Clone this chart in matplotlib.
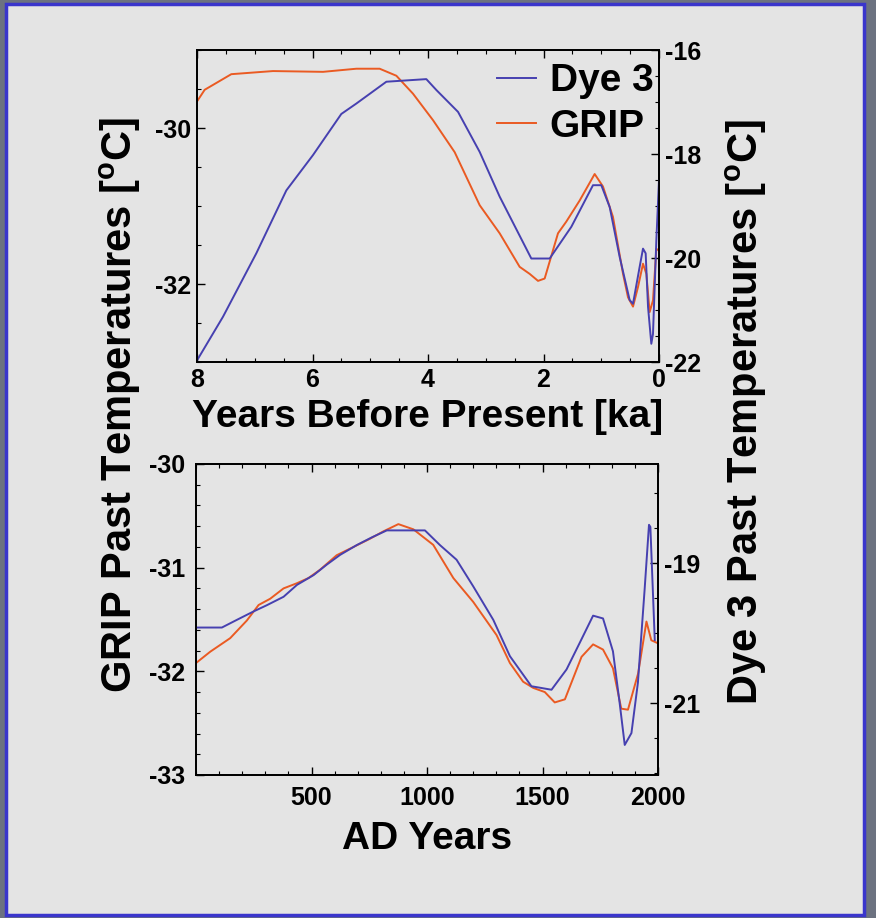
import matplotlib
matplotlib.use("Agg")
import matplotlib.pyplot as plt
from matplotlib.patches import Rectangle
from matplotlib.ticker import MultipleLocator

plt.rcParams['font.family'] = ['Liberation Sans', 'DejaVu Sans']
plt.rcParams['font.weight'] = 'bold'
plt.rcParams['axes.unicode_minus'] = False

# =====================================================
# DATA
# =====================================================

# upper panel: last 8 ka
grip_ka = [8.0, 7.867, 7.406, 6.684, 5.818, 5.241, 4.837, 4.548, 4.260, 3.913,
           3.538, 3.105, 2.759, 2.413, 2.240, 2.095, 1.980, 1.749, 1.605, 1.374,
           1.114, 0.970, 0.797, 0.623, 0.537, 0.450, 0.364, 0.277, 0.219, 0.162,
           0.104, 0.046, 0.0]
grip_ka_temp = [-29.66, -29.51, -29.31, -29.27, -29.28, -29.24, -29.24, -29.33, -29.56, -29.90,
                -30.31, -30.99, -31.35, -31.78, -31.87, -31.96, -31.93, -31.35, -31.20, -30.93,
                -30.59, -30.75, -31.14, -31.87, -32.17, -32.29, -32.04, -31.74, -31.87, -32.36,
                -32.21, -31.55, -31.57]

dye3_ka = [8.0, 7.550, 6.973, 6.453, 5.991, 5.501, 5.241, 4.721, 4.029, 3.855,
           3.480, 3.105, 2.759, 2.211, 1.893, 1.518, 1.143, 0.999, 0.854, 0.681,
           0.508, 0.450, 0.335, 0.277, 0.231, 0.190, 0.133, 0.104, 0.046, 0.0]
dye3_ka_temp = [-21.97, -21.13, -19.91, -18.70, -18.02, -17.23, -17.03, -16.61, -16.56, -16.77,
                -17.19, -17.96, -18.82, -20.01, -20.01, -19.40, -18.60, -18.60, -19.02, -19.98,
                -20.81, -20.88, -20.17, -19.82, -19.91, -20.94, -21.65, -21.46, -19.66, -18.50]

# lower panel: AD years
grip_ad = [0, 62, 148, 220, 271, 321, 379, 437, 487, 537, 609, 682, 754, 811, 876,
           941, 1027, 1114, 1200, 1301, 1359, 1416, 1460, 1510, 1553, 1597, 1669,
           1719, 1762, 1805, 1841, 1870, 1914, 1950, 1971, 2000]
grip_ad_temp = [-31.92, -31.81, -31.68, -31.51, -31.36, -31.30, -31.20, -31.15, -31.10, -31.02,
                -30.88, -30.80, -30.72, -30.65, -30.58, -30.63, -30.78, -31.10, -31.33, -31.65,
                -31.92, -32.10, -32.16, -32.20, -32.30, -32.27, -31.86, -31.74, -31.79, -31.97,
                -32.36, -32.37, -32.02, -31.52, -31.70, -31.73]

dye3_ad = [0, 112, 177, 249, 307, 379, 437, 509, 566, 624, 696, 761, 826, 991, 1056,
           1128, 1200, 1287, 1359, 1452, 1539, 1604, 1661, 1719, 1762, 1805, 1834, 1856,
           1885, 1913, 1942, 1961, 1967, 1986]
dye3_ad_temp = [-19.92, -19.92, -19.81, -19.69, -19.60, -19.48, -19.31, -19.17, -19.02, -18.88,
                -18.74, -18.63, -18.53, -18.53, -18.74, -18.95, -19.33, -19.81, -20.33, -20.76,
                -20.81, -20.52, -20.14, -19.75, -19.79, -20.26, -21.00, -21.60, -21.43, -20.71,
                -19.38, -18.45, -18.48, -20.10]

BLUE = '#4640b0'
ORANGE = '#ea5a22'
BG = '#e4e4e4'

fig = plt.figure(figsize=(8.76, 9.18), dpi=100)
fig.patch.set_facecolor('#6c7280')
fig.patches.append(Rectangle((6 / 876, 3 / 918), 858 / 876, 911 / 918,
                             transform=fig.transFigure, facecolor=BG,
                             edgecolor='#3a35cc', linewidth=2.5, zorder=-10))


def style(ax, pad=4):
    ax.set_facecolor(BG)
    ax.tick_params(which='both', direction='in', top=True, labelsize=18, pad=pad)
    ax.tick_params(which='major', length=6, width=1)
    ax.tick_params(which='minor', length=3, width=0.8)
    for s in ax.spines.values():
        s.set_linewidth(1.3)


# =====================================================
# TOP PANEL
# =====================================================

ax1 = fig.add_axes([197 / 876, 1 - 362 / 918, 462 / 876, 312 / 918])
ax1.plot(grip_ka, grip_ka_temp, color=ORANGE, lw=1.4, label='GRIP')
ax1.set_xlim(8, 0)
ax1.set_ylim(-33, -29)
ax1.set_yticks([-30, -32])
ax1.set_xticks([8, 6, 4, 2, 0])
ax1.xaxis.set_minor_locator(MultipleLocator(0.5))
ax1.yaxis.set_minor_locator(MultipleLocator(0.5))
style(ax1)
ax1.set_xlabel('Years Before Present [ka]', fontsize=28, fontweight='bold', labelpad=5)

ax1r = ax1.twinx()
ax1r.plot(dye3_ka, dye3_ka_temp, color=BLUE, lw=1.4, label='Dye 3')
ax1r.set_ylim(-22, -16)
ax1r.set_yticks([-16, -18, -20, -22])
ax1r.yaxis.set_minor_locator(MultipleLocator(0.5))
style(ax1r)
ax1r.patch.set_alpha(0)

h1, l1 = ax1r.get_legend_handles_labels()
h2, l2 = ax1.get_legend_handles_labels()
ax1r.legend(h1 + h2, l1 + l2, loc='upper right', frameon=False, fontsize=28,
            handlelength=1.0, handletextpad=0.35, labelspacing=0.25,
            borderaxespad=0.1, bbox_to_anchor=(1.03, 1.02))

# =====================================================
# BOTTOM PANEL
# =====================================================

ax2 = fig.add_axes([196 / 876, 1 - 775 / 918, 462 / 876, 311 / 918])
ax2.plot(grip_ad, grip_ad_temp, color=ORANGE, lw=1.4)
ax2.set_xlim(0, 2000)
ax2.set_ylim(-33, -30)
ax2.set_xticks([500, 1000, 1500, 2000])
ax2.set_yticks([-30, -31, -32, -33])
ax2.xaxis.set_minor_locator(MultipleLocator(100))
ax2.yaxis.set_minor_locator(MultipleLocator(0.2))
style(ax2, pad=8)
ax2.set_xlabel('AD Years', fontsize=28, fontweight='bold', labelpad=8)

ax2r = ax2.twinx()
ax2r.plot(dye3_ad, dye3_ad_temp, color=BLUE, lw=1.4)
ax2r.set_ylim(-22.03, -17.58)
ax2r.set_yticks([-19, -21])
ax2r.yaxis.set_minor_locator(MultipleLocator(0.5))
style(ax2r)
ax2r.patch.set_alpha(0)

# =====================================================
# SHARED Y LABELS
# =====================================================

fig.text(120 / 876, 1 - 405 / 918, 'GRIP Past Temperatures [$\\mathregular{^oC}$]',
         rotation=90, ha='center', va='center', fontsize=30, fontweight='bold')
fig.text(746 / 876, 1 - 412 / 918, 'Dye 3 Past Temperatures [$\\mathregular{^oC}$]',
         rotation=90, ha='center', va='center', fontsize=30, fontweight='bold')

plt.savefig('out.png', dpi=100, facecolor=fig.get_facecolor())
